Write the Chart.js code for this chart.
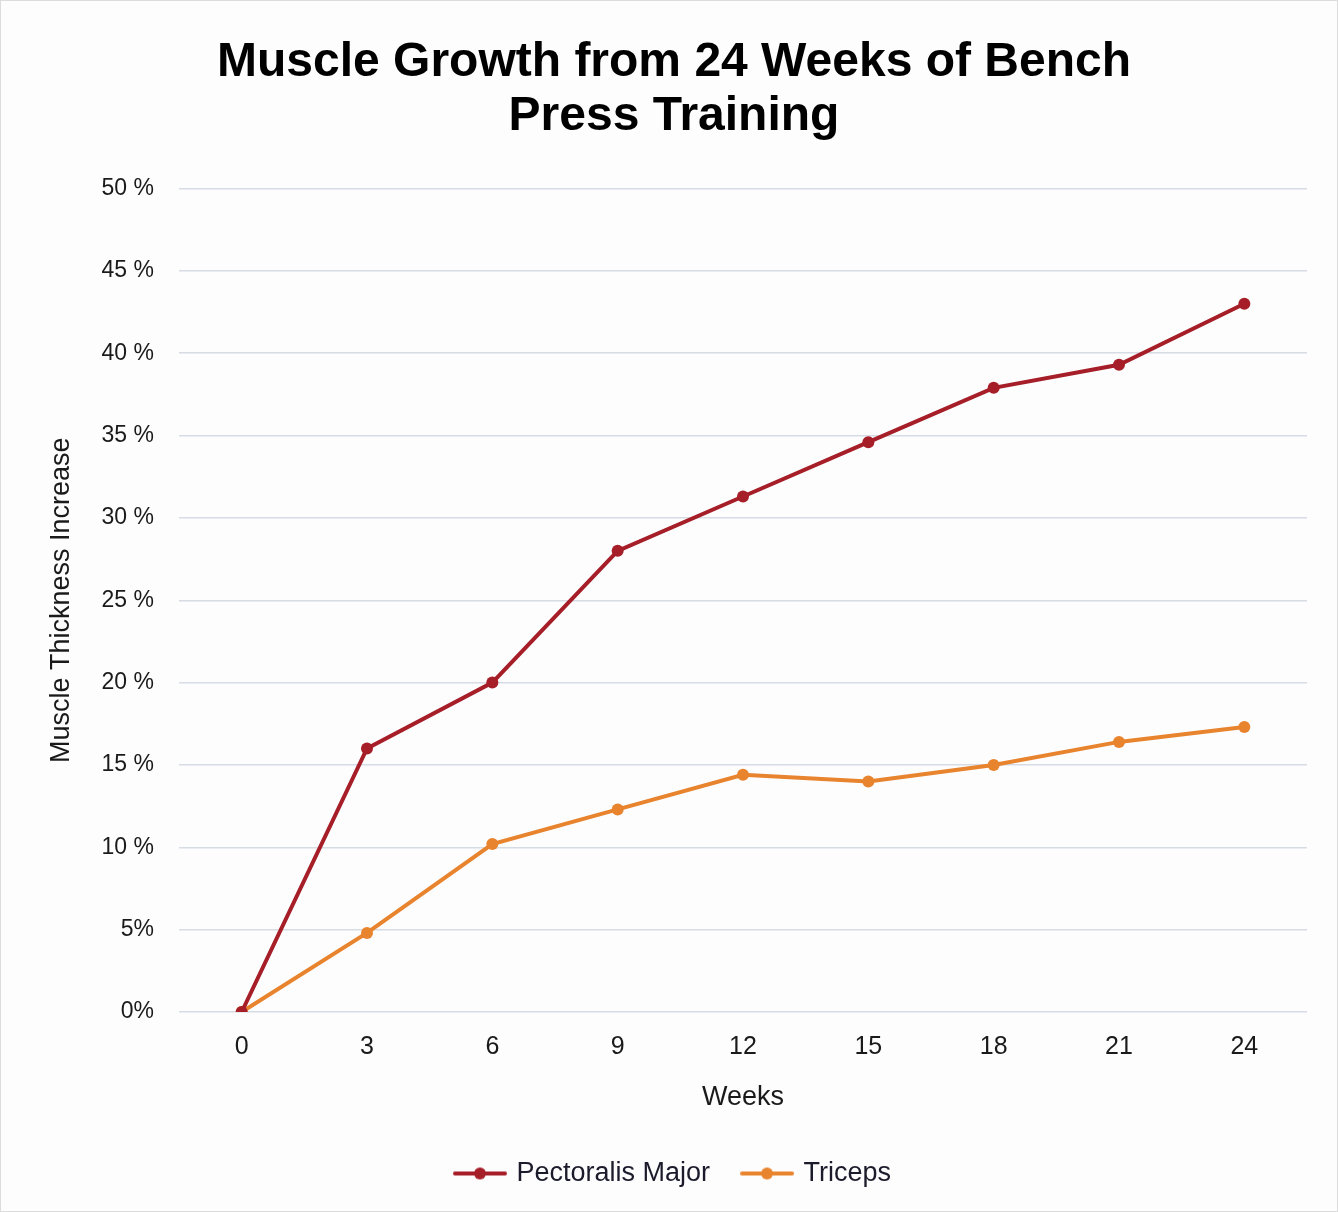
<!DOCTYPE html>
<html>
  <head>
    <meta charset="utf-8">
    <title>Muscle Growth from 24 Weeks of Bench Press Training</title>
    <style>
      html, body { margin: 0; padding: 0; background: #fdfdfe; }
      .chart-box {
        position: relative;
        width: 1336px;
        height: 1210px;
        border: 1px solid #dcdcdc;
      }
    </style>
  </head>
  <body>
    <div class="chart-box">
      <canvas id="chart"></canvas>
    </div>

    <script src="https://cdn.jsdelivr.net/npm/chart.js@4/dist/chart.umd.min.js"></script>
    <script>
      // data
      const weeks = ['0', '3', '6', '9', '12', '15', '18', '21', '24']
      const pectoralis = [0, 16.0, 20.0, 28.0, 31.3, 34.6, 37.9, 39.3, 43.0]
      const triceps = [0, 4.8, 10.2, 12.3, 14.4, 14.0, 15.0, 16.4, 17.3]
      const yTicks = [0, 5, 10, 15, 20, 25, 30, 35, 40, 45, 50]

      const red = '#a61e28'
      const orange = '#e8832e'
      const font = '"Liberation Sans", Arial, sans-serif'

      // little line + dot used as legend symbol
      function legendMark(color) {
        const c = document.createElement('canvas')
        c.width = 56
        c.height = 16
        const g = c.getContext('2d')
        g.strokeStyle = color
        g.lineWidth = 4
        g.lineCap = 'round'
        g.beginPath()
        g.moveTo(3, 8)
        g.lineTo(53, 8)
        g.stroke()
        g.fillStyle = color
        g.beginPath()
        g.arc(28, 8, 6, 0, Math.PI * 2)
        g.fill()
        return c
      }
      const marks = [legendMark(red), legendMark(orange)]

      const ctx = document.getElementById('chart').getContext('2d')
      const chart = new Chart(ctx, {
        type: 'line',
        data: {
          labels: weeks,
          datasets: [{
            label: 'Pectoralis Major',
            data: pectoralis,
            borderColor: red,
            backgroundColor: red,
            pointBackgroundColor: red,
            borderWidth: 4,
            pointRadius: 6,
            pointBorderWidth: 0
          }, {
            label: 'Triceps',
            data: triceps,
            borderColor: orange,
            backgroundColor: orange,
            pointBackgroundColor: orange,
            borderWidth: 4,
            pointRadius: 6,
            pointBorderWidth: 0
          }]
        },
        options: {
          responsive: true,
          maintainAspectRatio: false,
          animation: false,
          layout: {
            padding: { left: 40, right: 30, top: 0, bottom: 14 }
          },
          plugins: {
            title: {
              display: true,
              text: ['Muscle Growth from 24 Weeks of Bench', 'Press Training'],
              color: '#000',
              font: { family: font, size: 48, weight: 'bold', lineHeight: 1.12 },
              padding: { top: 35, bottom: 45 }
            },
            legend: {
              position: 'bottom',
              labels: {
                color: '#1b1b2b',
                font: { family: font, size: 27 },
                usePointStyle: true,
                pointStyleWidth: 46,
                padding: 34,
                generateLabels: function (c) {
                  return c.data.datasets.map(function (ds, i) {
                    return {
                      text: ds.label,
                      fontColor: '#1b1b2b',
                      pointStyle: marks[i],
                      strokeStyle: ds.borderColor,
                      fillStyle: ds.borderColor,
                      lineWidth: 0,
                      datasetIndex: i
                    }
                  })
                }
              }
            },
            tooltip: { enabled: false }
          },
          scales: {
            x: {
              offset: true,
              grid: { display: false, drawTicks: false },
              border: { display: false },
              ticks: {
                color: '#1a1a1a',
                font: { family: font, size: 25 },
                padding: 20
              },
              title: {
                display: true,
                text: 'Weeks',
                color: '#1a1a1a',
                font: { family: font, size: 27 },
                padding: { top: 0, bottom: 12 }
              },
              afterFit: function (scale) { scale.height = 114 }
            },
            y: {
              min: 0,
              max: 50,
              afterBuildTicks: function (scale) {
                scale.ticks = yTicks.map(function (v) { return { value: v } })
              },
              grid: { color: '#d6dbe4', lineWidth: 1.5, drawTicks: false },
              border: { display: false },
              ticks: {
                color: '#1a1a1a',
                font: { family: font, size: 23 },
                padding: 25,
                callback: function (v) { return v + (v === 0 || v === 5 ? '%' : ' %') }
              },
              title: {
                display: true,
                text: 'Muscle Thickness Increase',
                color: '#1a1a1a',
                font: { family: font, size: 27 },
                padding: { top: 4, bottom: 0 }
              },
              afterFit: function (scale) { scale.width = 138 }
            }
          }
        }
      })
    </script>
  </body>
</html>
